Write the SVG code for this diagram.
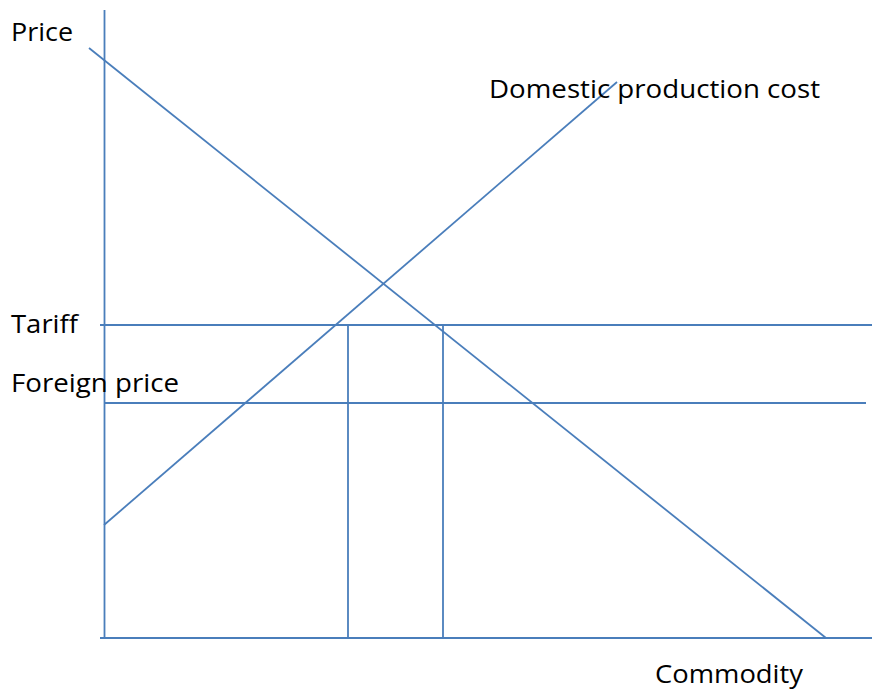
<svg xmlns="http://www.w3.org/2000/svg" width="872" height="691" viewBox="0 0 872 691">
<style>
.ln{stroke:#4a7ebb;stroke-width:1.8;fill:none}
.t{font-family:"Open Sans","Noto Sans","DejaVu Sans",sans-serif;font-size:26px;fill:#000}
</style>
<rect width="872" height="691" fill="#fff"/>
<g id="connectors">
<line class="ln" x1="104.5" y1="10" x2="104.5" y2="638"/>
<line class="ln" x1="100" y1="638" x2="872" y2="638"/>
<line class="ln" x1="89" y1="48" x2="826" y2="638"/>
<line class="ln" x1="104" y1="525" x2="617" y2="82"/>
<line class="ln" x1="100" y1="325" x2="872" y2="325"/>
<line class="ln" x1="104" y1="403" x2="866" y2="403"/>
<line class="ln" x1="348" y1="325" x2="348" y2="638"/>
<line class="ln" x1="443" y1="325" x2="443" y2="638"/>
</g>
<g id="label-price"><text class="t" x="11" y="41" textLength="62" lengthAdjust="spacingAndGlyphs">Price</text></g>
<g id="label-domestic"><text class="t" x="489" y="98" textLength="331" lengthAdjust="spacingAndGlyphs">Domestic production cost</text></g>
<g id="label-tariff"><text class="t" x="11" y="333" textLength="67" lengthAdjust="spacingAndGlyphs">Tariff</text></g>
<g id="label-foreign"><text class="t" x="11" y="392" textLength="168" lengthAdjust="spacingAndGlyphs">Foreign price</text></g>
<g id="label-commodity"><text class="t" x="655" y="683" textLength="148" lengthAdjust="spacingAndGlyphs">Commodity</text></g>
</svg>
